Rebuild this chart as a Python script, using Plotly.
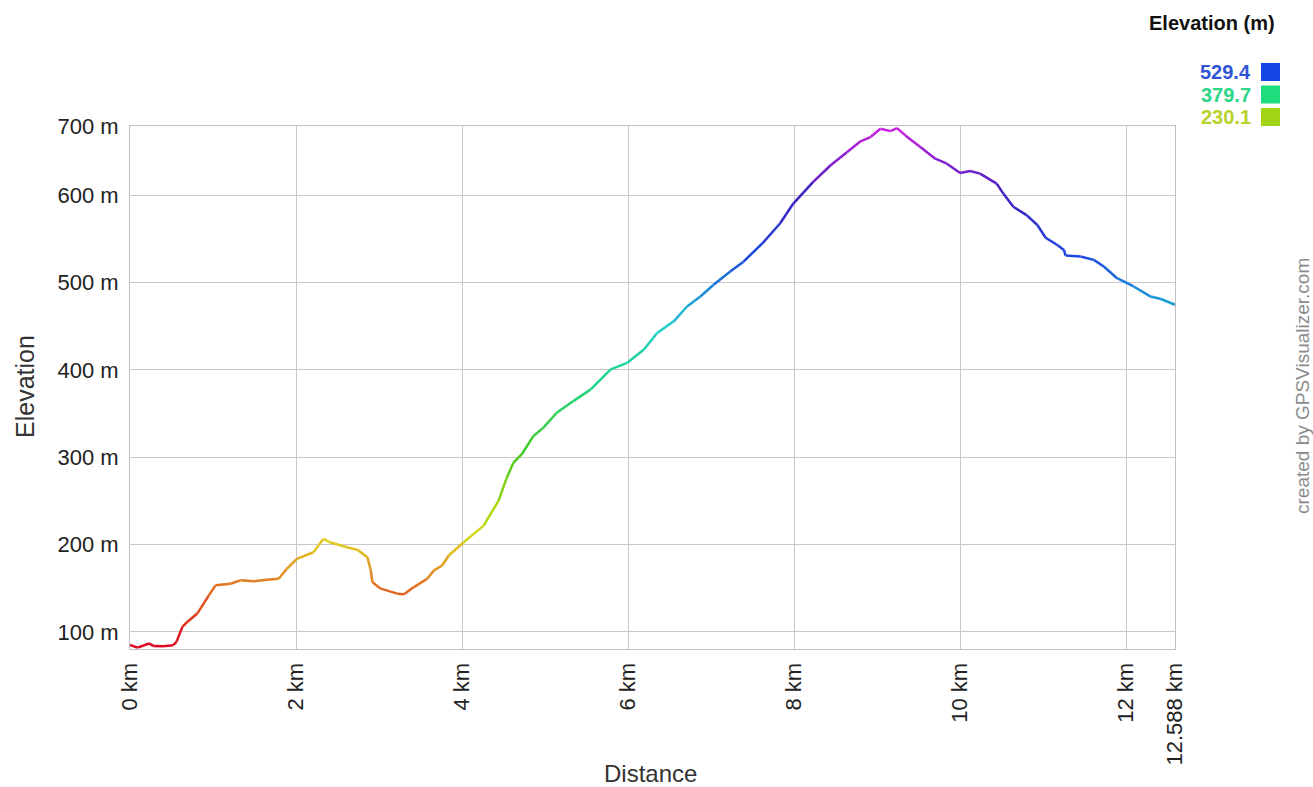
import plotly.graph_objects as go

distance_km = [0.0, 0.09, 0.23, 0.28, 0.40, 0.52, 0.56, 0.63, 0.69, 0.81, 0.95, 1.03,
               1.21, 1.33, 1.49, 1.65, 1.79, 1.89, 2.01, 2.21, 2.33, 2.41, 2.61, 2.74,
               2.86, 2.90, 2.92, 3.02, 3.22, 3.30, 3.42, 3.58, 3.66, 3.76, 3.84, 4.02,
               4.26, 4.44, 4.54, 4.62, 4.72, 4.86, 4.98, 5.14, 5.34, 5.55, 5.79, 5.99,
               6.19, 6.35, 6.55, 6.71, 6.87, 7.03, 7.23, 7.39, 7.62, 7.83, 7.99, 8.23,
               8.44, 8.64, 8.80, 8.92, 9.04, 9.16, 9.24, 9.34, 9.52, 9.70, 9.84, 10.00,
               10.12, 10.24, 10.44, 10.52, 10.64, 10.80, 10.93, 11.03, 11.17, 11.25, 11.27,
               11.45, 11.61, 11.73, 11.89, 12.09, 12.29, 12.41, 12.588]
elevation_m = [85.0, 82.0, 86.8, 84.0, 83.7, 84.8, 88.6, 105.7, 111.4, 121.0, 141.8, 153.3,
               155.2, 159.0, 158.0, 159.8, 160.9, 172.3, 183.7, 191.2, 206.5, 202.6, 196.9, 194.0,
               185.5, 170.4, 157.0, 149.5, 143.8, 143.0, 151.3, 160.9, 170.4, 176.0, 187.5, 202.6,
               221.7, 250.2, 276.8, 293.9, 303.4, 324.3, 333.8, 350.9, 364.2, 377.6, 400.4, 408.0,
               423.2, 442.1, 455.5, 472.5, 483.9, 497.3, 512.4, 523.8, 545.0, 567.5, 590.3, 615.1,
               634.1, 649.3, 661.5, 666.4, 675.9, 673.2, 676.6, 668.3, 655.0, 641.6, 635.9, 625.3,
               627.6, 624.5, 613.1, 601.7, 586.6, 577.1, 565.7, 551.2, 542.9, 537.2, 530.7,
               529.6, 525.8, 518.2, 504.8, 495.4, 484.0, 481.3, 474.5]

elev_min = 80.45
elev_max = 679.05

y_tickvals = [100, 200, 300, 400, 500, 600, 679.05]
y_ticktext = ["100 m", "200 m", "300 m", "400 m", "500 m", "600 m", "700 m"]
x_tickvals = [0, 2, 4, 6, 8, 10, 12, 12.588]
x_ticktext = ["0 km", "2 km", "4 km", "6 km", "8 km", "10 km", "12 km", "12.588 km"]

legend_values = ["529.4", "379.7", "230.1"]
legend_text_colors = ["#2f55d4", "#2ed68a", "#b8d22a"]
legend_box_colors = ["#1547e6", "#1fdc7c", "#a2d414"]

# colour ramp by fraction of elevation range
ramp = [
    (0.00, (221, 0, 34)),
    (0.12, (226, 112, 32)),
    (0.21, (224, 212, 32)),
    (0.25, (184, 220, 16)),
    (0.37, (72, 200, 32)),
    (0.50, (34, 214, 130)),
    (0.62, (32, 204, 206)),
    (0.75, (26, 72, 224)),
    (0.87, (64, 32, 192)),
    (1.00, (208, 32, 224)),
]


def ramp_color(e):
    f = (e - elev_min) / (elev_max - elev_min)
    f = max(0.0, min(1.0, f))
    for (f0, c0), (f1, c1) in zip(ramp[:-1], ramp[1:]):
        if f <= f1:
            t = (f - f0) / (f1 - f0) if f1 > f0 else 0
            r, g, b = (round(a + (bb - a) * t) for a, bb in zip(c0, c1))
            return f"rgb({r},{g},{b})"
    r, g, b = ramp[-1][1]
    return f"rgb({r},{g},{b})"


fig = go.Figure()
for i in range(len(distance_km) - 1):
    e_mid = (elevation_m[i] + elevation_m[i + 1]) / 2
    fig.add_trace(go.Scatter(
        x=distance_km[i:i + 2], y=elevation_m[i:i + 2], mode="lines",
        line=dict(color=ramp_color(e_mid), width=2.5),
        hoverinfo="skip", showlegend=False))

font_family = "Liberation Sans, Arial, sans-serif"
W, H = 1313, 787
ml, mr, mt, mb = 130, 138, 126, 138
pw, ph = W - ml - mr, H - mt - mb


def px(x):
    # window pixel x -> paper fraction
    return (x - ml) / pw


def py(y):
    # window pixel y -> paper fraction
    return (H - mb - y) / ph


annotations = [
    dict(text="Elevation", x=px(25), y=py(387), textangle=-90,
         font=dict(size=25, color="#333333", family=font_family)),
    dict(text="Distance", x=px(650), y=py(773),
         font=dict(size=24, color="#333333", family=font_family)),
    dict(text="created by GPSVisualizer.com", x=px(1302), y=py(386), textangle=-90,
         font=dict(size=19, color="#8a8a8a", family=font_family)),
    dict(text="<b>Elevation (m)</b>", x=px(1277), y=py(23), xanchor="right",
         font=dict(size=20, color="#111111", family=font_family)),
]
shapes = []
box_tops = [63, 85.5, 108]
for val, tc, bc, top in zip(legend_values, legend_text_colors, legend_box_colors, box_tops):
    annotations.append(dict(text=f"<b>{val}</b>", x=px(1253), y=py(top + 9), xanchor="right",
                            font=dict(size=20, color=tc, family=font_family)))
    shapes.append(dict(type="rect", xref="paper", yref="paper",
                       x0=px(1261), x1=px(1280), y0=py(top + 18), y1=py(top),
                       fillcolor=bc, line=dict(width=0)))
for a in annotations:
    a.update(xref="paper", yref="paper", showarrow=False)
    a.setdefault("xanchor", "center")
    a.setdefault("yanchor", "middle")

fig.update_layout(
    width=W, height=H,
    margin=dict(l=ml, r=mr, t=mt, b=mb),
    plot_bgcolor="white", paper_bgcolor="white",
    font=dict(family=font_family, size=22, color="#222222"),
    annotations=annotations, shapes=shapes,
    xaxis=dict(range=[0, 12.588], tickvals=x_tickvals, ticktext=x_ticktext, tickangle=-90,
               showgrid=True, gridcolor="#c8c8c8", gridwidth=1, zeroline=False,
               showline=True, linecolor="#c0c0c0", linewidth=1, mirror=True,
               ticks="", ticklabelstandoff=4, tickfont=dict(size=22, color="#222222")),
    yaxis=dict(range=[elev_min, elev_max], tickvals=y_tickvals, ticktext=y_ticktext,
               showgrid=True, gridcolor="#c8c8c8", gridwidth=1, zeroline=False,
               showline=True, linecolor="#c0c0c0", linewidth=1, mirror=True,
               ticks="", ticklabelstandoff=6, tickfont=dict(size=22, color="#222222")),
)

fig.write_html(
    "out.html",
    config={"displayModeBar": False},
    post_script="document.body.style.margin='0';document.body.style.overflow='hidden';",
)
